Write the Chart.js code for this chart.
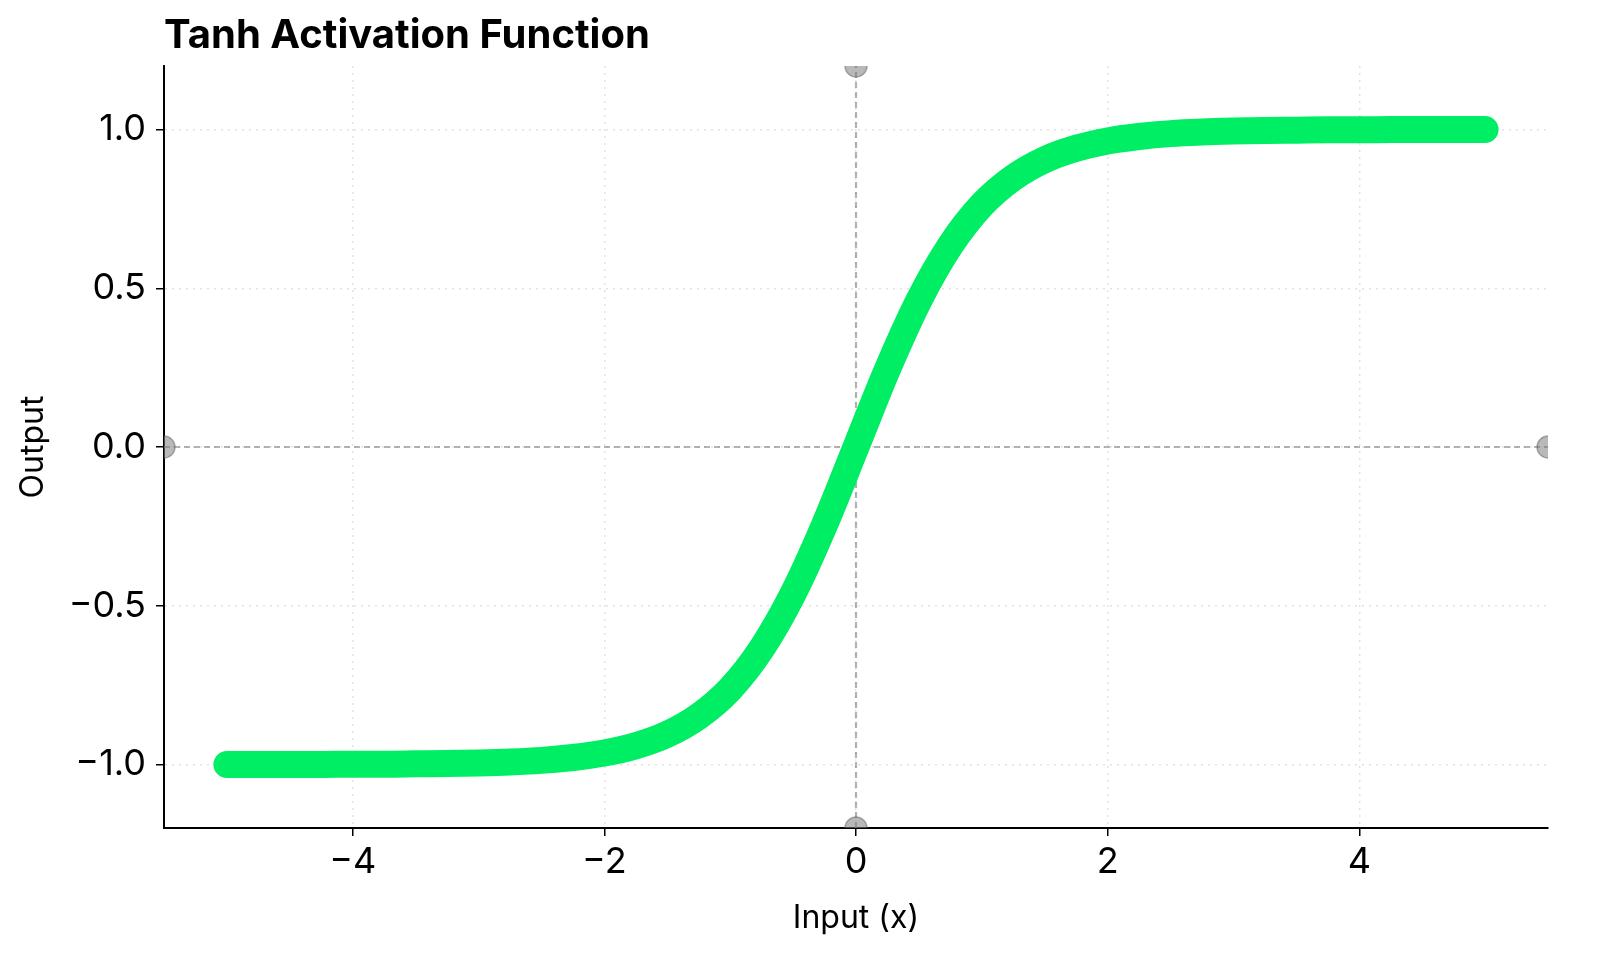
<!DOCTYPE html>
<html>
<head>
<meta charset="utf-8">
<title>Tanh Activation Function</title>
<script src="https://cdn.jsdelivr.net/npm/chart.js@4.4.1/dist/chart.umd.min.js"></script>
<style>
    html, body { margin: 0; padding: 0; background: #fff; }
    #wrap { width: 1600px; height: 980px; position: relative; }
</style>
</head>
<body>
<div id="wrap"><canvas id="myChart"></canvas></div>
<script>
// values
var inputs = [-5, -4.75, -4.5, -4.25, -4, -3.75, -3.5, -3.25, -3, -2.75, -2.5, -2.25, -2, -1.75, -1.5, -1.25, -1, -0.75, -0.5, -0.25,
    0, 0.25, 0.5, 0.75, 1, 1.25, 1.5, 1.75, 2, 2.25, 2.5, 2.75, 3, 3.25, 3.5, 3.75, 4, 4.25, 4.5, 4.75, 5];
var outputs = [-1.0, -1.0, -1.0, -1.0, -0.999, -0.999, -0.998, -0.997, -0.995, -0.992, -0.987, -0.978, -0.964, -0.941, -0.905, -0.848, -0.762, -0.635, -0.462, -0.245,
    0, 0.245, 0.462, 0.635, 0.762, 0.848, 0.905, 0.941, 0.964, 0.978, 0.987, 0.992, 0.995, 0.997, 0.998, 0.999, 0.999, 1.0, 1.0, 1.0, 1.0];

var xTicks = [-4, -2, 0, 2, 4];
var yTicks = [-1.0, -0.5, 0.0, 0.5, 1.0];
var xRange = [-5.5, 5.5];
var yRange = [-1.2, 1.2];

var titleText = 'Tanh Activation Function';
var xTitle = 'Input (x)';
var yTitle = 'Output';

function minus(s) {
    return String(s).replace('-', '\u2212');
}

var curve = inputs.map(function (x, i) {
    return { x: x, y: outputs[i] };
});

var titlePlugin = {
    id: 'leftTitle',
    afterDraw: function (chart) {
        var c = chart.ctx;
        c.save();
        c.font = 'bold 40px Inter';
        c.fillStyle = '#000';
        c.textBaseline = 'middle';
        c.textAlign = 'left';
        c.fillText(titleText, chart.chartArea.left, 36);
        c.restore();
    }
};

var refStyle = {
    borderColor: 'rgba(128,128,128,0.6)',
    borderWidth: 2.2,
    borderDash: [6, 4],
    pointRadius: 11,
    pointBackgroundColor: 'rgba(128,128,128,0.55)',
    pointBorderColor: 'rgba(90,90,90,0.45)',
    pointBorderWidth: 1.5,
    fill: false,
    clip: 0
};

var ctx = document.getElementById('myChart');

new Chart(ctx, {
    type: 'line',
    data: {
        datasets: [{
            data: curve,
            borderColor: '#00ee64',
            borderWidth: 27,
            borderCapStyle: 'round',
            borderJoinStyle: 'round',
            cubicInterpolationMode: 'monotone',
            pointRadius: 0,
            fill: false,
            clip: 0
        }, Object.assign({
            data: [{ x: xRange[0], y: 0 }, { x: xRange[1], y: 0 }]
        }, refStyle), Object.assign({
            data: [{ x: 0, y: yRange[0] }, { x: 0, y: yRange[1] }]
        }, refStyle)]
    },
    options: {
        responsive: true,
        maintainAspectRatio: false,
        animation: false,
        layout: {
            padding: { left: 0, right: 52, top: 66, bottom: 0 }
        },
        plugins: {
            legend: { display: false },
            tooltip: { enabled: false }
        },
        scales: {
            x: {
                type: 'linear',
                min: xRange[0],
                max: xRange[1],
                afterBuildTicks: function (axis) {
                    axis.ticks = xTicks.map(function (v) { return { value: v }; });
                },
                afterFit: function (axis) {
                    axis.height = 152;
                },
                ticks: {
                    color: '#000',
                    padding: 5,
                    font: { family: 'Inter', size: 36 },
                    callback: function (v) { return minus(v); }
                },
                grid: {
                    color: '#e2e2e2',
                    lineWidth: 1.5,
                    tickColor: '#000',
                    tickLength: 8,
                    tickWidth: 1.5
                },
                border: {
                    color: '#000',
                    width: 2,
                    dash: [2, 5]
                },
                title: {
                    display: true,
                    text: xTitle,
                    color: '#000',
                    font: { family: 'Inter', size: 32 },
                    padding: { top: 0, bottom: 42 }
                }
            },
            y: {
                type: 'linear',
                min: yRange[0],
                max: yRange[1],
                afterBuildTicks: function (axis) {
                    axis.ticks = yTicks.map(function (v) { return { value: v }; });
                },
                afterFit: function (axis) {
                    axis.width = 164;
                },
                ticks: {
                    color: '#000',
                    padding: 10,
                    font: { family: 'Inter', size: 36 },
                    callback: function (v) { return minus(v.toFixed(1)); }
                },
                grid: {
                    color: '#e2e2e2',
                    lineWidth: 1.5,
                    tickColor: '#000',
                    tickLength: 8,
                    tickWidth: 1.5
                },
                border: {
                    color: '#000',
                    width: 2,
                    dash: [2, 5]
                },
                title: {
                    display: true,
                    text: yTitle,
                    color: '#000',
                    font: { family: 'Inter', size: 32 },
                    padding: { top: 14, bottom: 0 }
                }
            }
        }
    },
    plugins: [titlePlugin]
});
</script>
</body>
</html>
